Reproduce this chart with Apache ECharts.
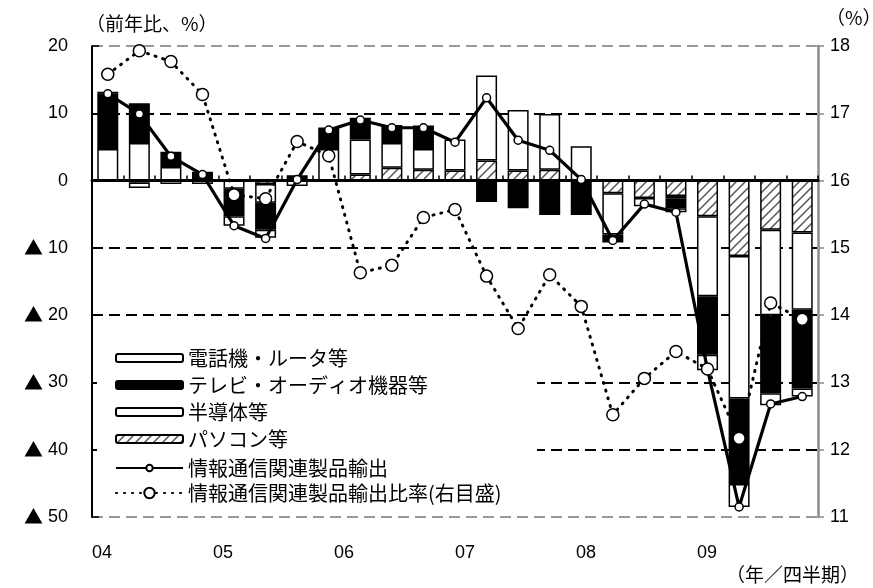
<!DOCTYPE html>
<html><head><meta charset="utf-8">
<script src="https://cdn.jsdelivr.net/npm/echarts@6/dist/echarts.min.js"></script>
<style>html,body{margin:0;padding:0;background:#fff}#c{width:873px;height:588px}</style>
</head><body><div id="c"></div>
<script>
// ---- data ----
const quarters = ['04Q1','04Q2','04Q3','04Q4','05Q1','05Q2','05Q3','05Q4','06Q1','06Q2','06Q3','06Q4',
                  '07Q1','07Q2','07Q3','07Q4','08Q1','08Q2','08Q3','08Q4','09Q1','09Q2','09Q3'];
const yearLabels = ['04','05','06','07','08','09'];
const seriesNames = ['電話機・ルータ等','テレビ・オーディオ機器等','半導体等','パソコン等','情報通信関連製品輸出','情報通信関連製品輸出比率(右目盛)'];
const phones = [0.3,-0.8,-0.5,null,-1.4,-1.2,-0.8,null,null,null,null,null,null,null,null,null,null,null,-0.6,-2.3,-3.4,-1.8,-1.2];
const tvAudio = [8.2,5.9,2.3,1.3,-4.1,-4.0,0.8,3.2,3.25,2.65,3.5,null,-3.2,-4.1,-5.1,-5.1,-1.2,null,-1.4,-8.7,-12.7,-11.6,-11.7];
const semis = [4.7,5.6,2.0,-0.5,-1.2,-2.8,null,4.7,5.2,3.7,3.1,4.6,12.6,9.0,8.3,5.1,-6.1,-1.2,-0.4,-11.9,-21.2,-12.7,-11.5];
const pcs = [null,-0.3,null,null,null,-0.5,null,null,0.9,1.9,1.6,1.5,3.0,1.5,1.6,null,-1.9,-2.6,-2.3,-5.3,-11.2,-7.3,-7.7];
const ictExports = [12.9,9.9,3.6,0.9,-6.7,-8.6,0.15,7.5,9.0,7.85,7.85,5.7,12.3,6.0,4.5,0.15,-8.9,-3.5,-4.7,-28.1,-48.5,-33.2,-32.1];
const ictShare = [17.58,17.93,17.77,17.28,15.79,15.73,16.58,16.37,14.63,14.74,15.45,15.57,14.58,13.8,14.6,14.13,12.52,13.06,13.46,13.2,12.17,14.18,13.94];
const leftTicks = {min:-50, max:20, interval:10};
const rightTicks = {min:11, max:18, interval:1};

// hatch pattern
const pc = document.createElement('canvas'); pc.width = 9; pc.height = 9;
const g = pc.getContext('2d');
g.fillStyle = '#fff'; g.fillRect(0,0,9,9);
g.strokeStyle = '#555'; g.lineWidth = 1.5;
g.beginPath(); g.moveTo(0,9); g.lineTo(9,0); g.moveTo(-3,3); g.lineTo(3,-3); g.moveTo(6,12); g.lineTo(12,6); g.stroke();
const hatch = {image: pc, repeat: 'repeat'};

const JP = '"Noto Sans CJK JP", sans-serif';
const NUM = '"Liberation Sans", "Noto Sans CJK JP", sans-serif';

const barBase = {type:'bar', stack:'s', barWidth:21, xAxisIndex:0, yAxisIndex:0};

const chart = echarts.init(document.getElementById('c'), null, {renderer:'canvas'});
chart.setOption({
  animation:false,
  backgroundColor:'#fff',
  grid:{left:92, right:55, top:46, bottom:71, containLabel:false},
  graphic:[
    {type:'rect', left:97, top:343, shape:{width:440, height:166}, style:{fill:'#fff'}, z:1},
    {type:'text', left:86, top:14, style:{text:'（前年比、%）', font:'19px "Noto Sans CJK JP"', fill:'#000'}},
    {type:'text', left:826, top:8, style:{text:'（%）', font:'19px "Noto Sans CJK JP"', fill:'#000'}},
    {type:'text', left:726, top:565, style:{text:'（年／四半期）', font:'19px "Noto Sans CJK JP"', fill:'#000'}}
  ],
  legend:[
    {data:[seriesNames[0],seriesNames[1],seriesNames[2],seriesNames[3]], orient:'vertical', left:115, top:348,
     itemWidth:67, itemHeight:8, itemGap:7, padding:0, textStyle:{fontFamily:JP, fontSize:20, color:'#000'}, z:5},
    {data:[seriesNames[4]], orient:'vertical', left:115, top:458,
     itemWidth:67, itemHeight:8, padding:0, textStyle:{fontFamily:JP, fontSize:20, color:'#000'}, z:5},
    {data:[seriesNames[5]], orient:'vertical', left:115, top:483,
     itemWidth:67, itemHeight:13, padding:0, textStyle:{fontFamily:JP, fontSize:20, color:'#000'}, z:5}
  ],
  xAxis:[
    {type:'category', data:quarters, position:'bottom',
     axisLine:{onZero:true, onZeroAxisIndex:0, lineStyle:{color:'#000', width:3}},
     axisTick:{show:true, inside:true, length:5, interval:0, lineStyle:{color:'#000', width:1.5}},
     axisLabel:{show:false}, splitLine:{show:false}, z:3},
    {type:'value', min:0, max:24, interval:4, position:'bottom',
     axisLine:{show:false}, axisTick:{show:false}, splitLine:{show:false},
     axisLabel:{margin:27, align:'left', fontFamily:NUM, fontSize:18, color:'#000',
       formatter:v => yearLabels[v/4] || ''}}
  ],
  yAxis:[
    {type:'value', min:leftTicks.min, max:leftTicks.max, interval:leftTicks.interval, position:'left',
     axisLine:{show:true, lineStyle:{color:'#000', width:2}},
     axisTick:{show:true, inside:true, length:7, lineStyle:{color:'#000', width:1.5}},
     axisLabel:{margin:24, fontFamily:NUM, fontSize:18, color:'#000',
       formatter:v => v < 0 ? '{t|▲} ' + (-v) : String(v),
       rich:{t:{fontFamily:JP, fontSize:19, color:'#000'}}},
     splitLine:{show:true, lineStyle:{type:[11,6], width:1.8,
       color:['#999','#000','#000','#000','#000','#000','#000','#999']}}},
    {type:'value', min:rightTicks.min, max:rightTicks.max, interval:rightTicks.interval, position:'right',
     axisLine:{show:true, lineStyle:{color:'#8c8c8c', width:2.5}},
     axisTick:{show:true, length:6, lineStyle:{color:'#8c8c8c', width:1.5}},
     axisLabel:{margin:12, fontFamily:NUM, fontSize:18, color:'#000'},
     splitLine:{show:false}}
  ],
  series:[
    Object.assign({}, barBase, {name:seriesNames[3], data:pcs, itemStyle:{color:hatch, borderColor:'#000', borderWidth:1.5}}),
    Object.assign({}, barBase, {name:seriesNames[2], data:semis, itemStyle:{color:'#fff', borderColor:'#000', borderWidth:1.5}}),
    Object.assign({}, barBase, {name:seriesNames[1], data:tvAudio, itemStyle:{color:'#000', borderColor:'#000', borderWidth:1.5}}),
    Object.assign({}, barBase, {name:seriesNames[0], data:phones, itemStyle:{color:'#fff', borderColor:'#000', borderWidth:1.5}}),
    {name:seriesNames[4], type:'line', data:ictExports, xAxisIndex:0, yAxisIndex:0, z:4,
     symbol:'circle', symbolSize:8, lineStyle:{color:'#000', width:3.2},
     itemStyle:{color:'#fff', borderColor:'#000', borderWidth:1.5}},
    {name:seriesNames[5], type:'line', data:ictShare, xAxisIndex:0, yAxisIndex:1, z:5,
     symbol:'circle', symbolSize:12, lineStyle:{color:'#000', width:3, type:[1,7], cap:'round'},
     itemStyle:{color:'#fff', borderColor:'#000', borderWidth:1.5}}
  ]
});
</script></body></html>
